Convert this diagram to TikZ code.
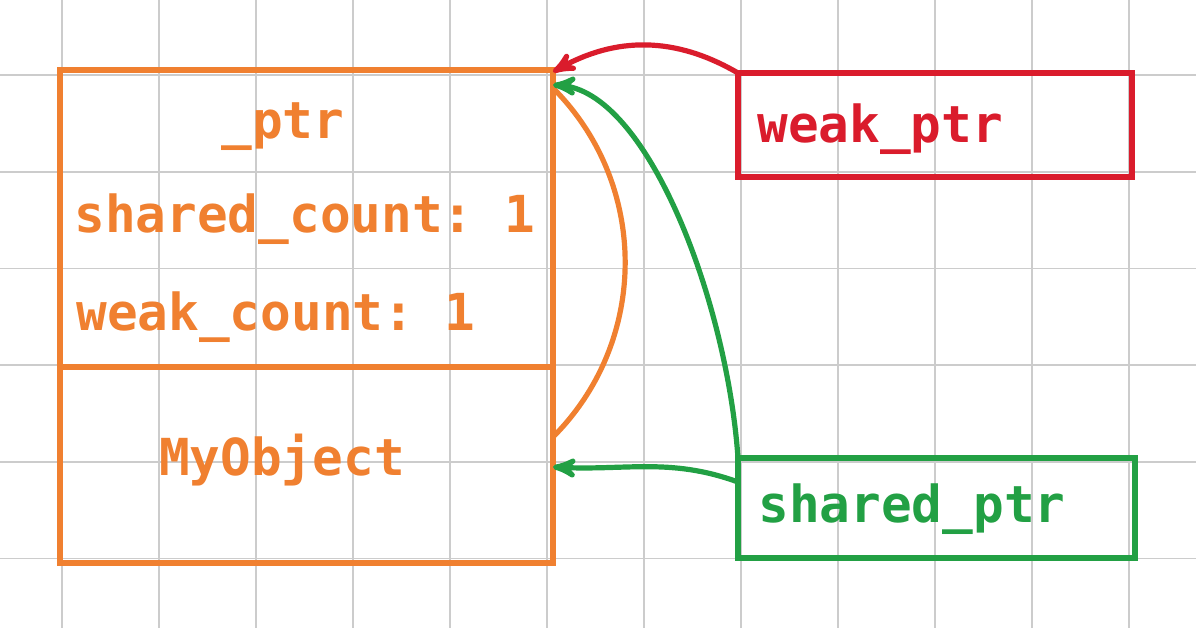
\documentclass[tikz,border=0pt]{standalone}
\usepackage{fontspec}
\setmonofont{DejaVu Sans Mono}
\usetikzlibrary{arrows,positioning}
\definecolor{objorange}{RGB}{240,128,48}
\definecolor{weakred}{RGB}{218,28,44}
\definecolor{sharedgreen}{RGB}{34,160,68}

\begin{document}
\begin{tikzpicture}[x=0.5pt,y=0.5pt,
                    box/.style={draw,line width=3pt,inner sep=0pt,outer sep=0pt},
                    code/.style={font=\ttfamily\bfseries\fontsize{25.5}{30}\selectfont,
                                 inner sep=0pt},
                    ptr/.style={->,>=stealth',line width=2.6pt},
                    gridline/.style={gray!40,line width=0.9pt}]
  \useasboundingbox[fill=white] (0,0) rectangle (1196,-628);

  \foreach \i in {0,...,11}
    \draw[gridline] (62+97*\i,0) -- (62+97*\i,-628);
  \foreach \j in {0,...,5}
    \draw[gridline] (0,-75-96.7*\j) -- (1196,-75-96.7*\j);

  \node[box,objorange,minimum width=246.5pt,minimum height=148.5pt] (ctrl) at (306.5,-218.5) {};
  \node[box,objorange,minimum width=246.5pt,minimum height=98pt]    (obj)  [below=0pt of ctrl] {};
  \node[box,weakred,minimum width=197pt,minimum height=52pt]        (weak)   at (935,-125)   {};
  \node[box,sharedgreen,minimum width=198.5pt,minimum height=50pt]  (shared) at (936.5,-508) {};

  \node[code,objorange,anchor=base]        (ptrf)   at (283,-138) {\_ptr};
  \node[code,objorange,anchor=base west]   (scount) at (74,-232)  {shared\_count: 1};
  \node[code,objorange,anchor=base west]   (wcount) at (76,-330)  {weak\_count: 1};
  \node[code,objorange,anchor=base]        (myobj)  at (282,-475) {MyObject};
  \node[code,weakred,anchor=base west]     (wtext)  at (757,-142) {weak\_ptr};
  \node[code,sharedgreen,anchor=base west] (stext)  at (758,-522) {shared\_ptr};

  \draw[objorange,line width=2.6pt] ([yshift=-9pt]ctrl.north east) to[bend left=45] ([yshift=14pt]obj.east);
  \draw[ptr,weakred] (weak.north west) to[bend right=30] ([yshift=-1pt]ctrl.north east);
  \draw[ptr,sharedgreen] (shared.north west)
      to[out=94,in=-3,out looseness=0.97,in looseness=0.58] ([yshift=-7.5pt]ctrl.north east);
  \draw[ptr,sharedgreen] ([yshift=13pt]shared.west) to[out=160,in=-3] ([yshift=-1pt]obj.east);
\end{tikzpicture}
\end{document}
